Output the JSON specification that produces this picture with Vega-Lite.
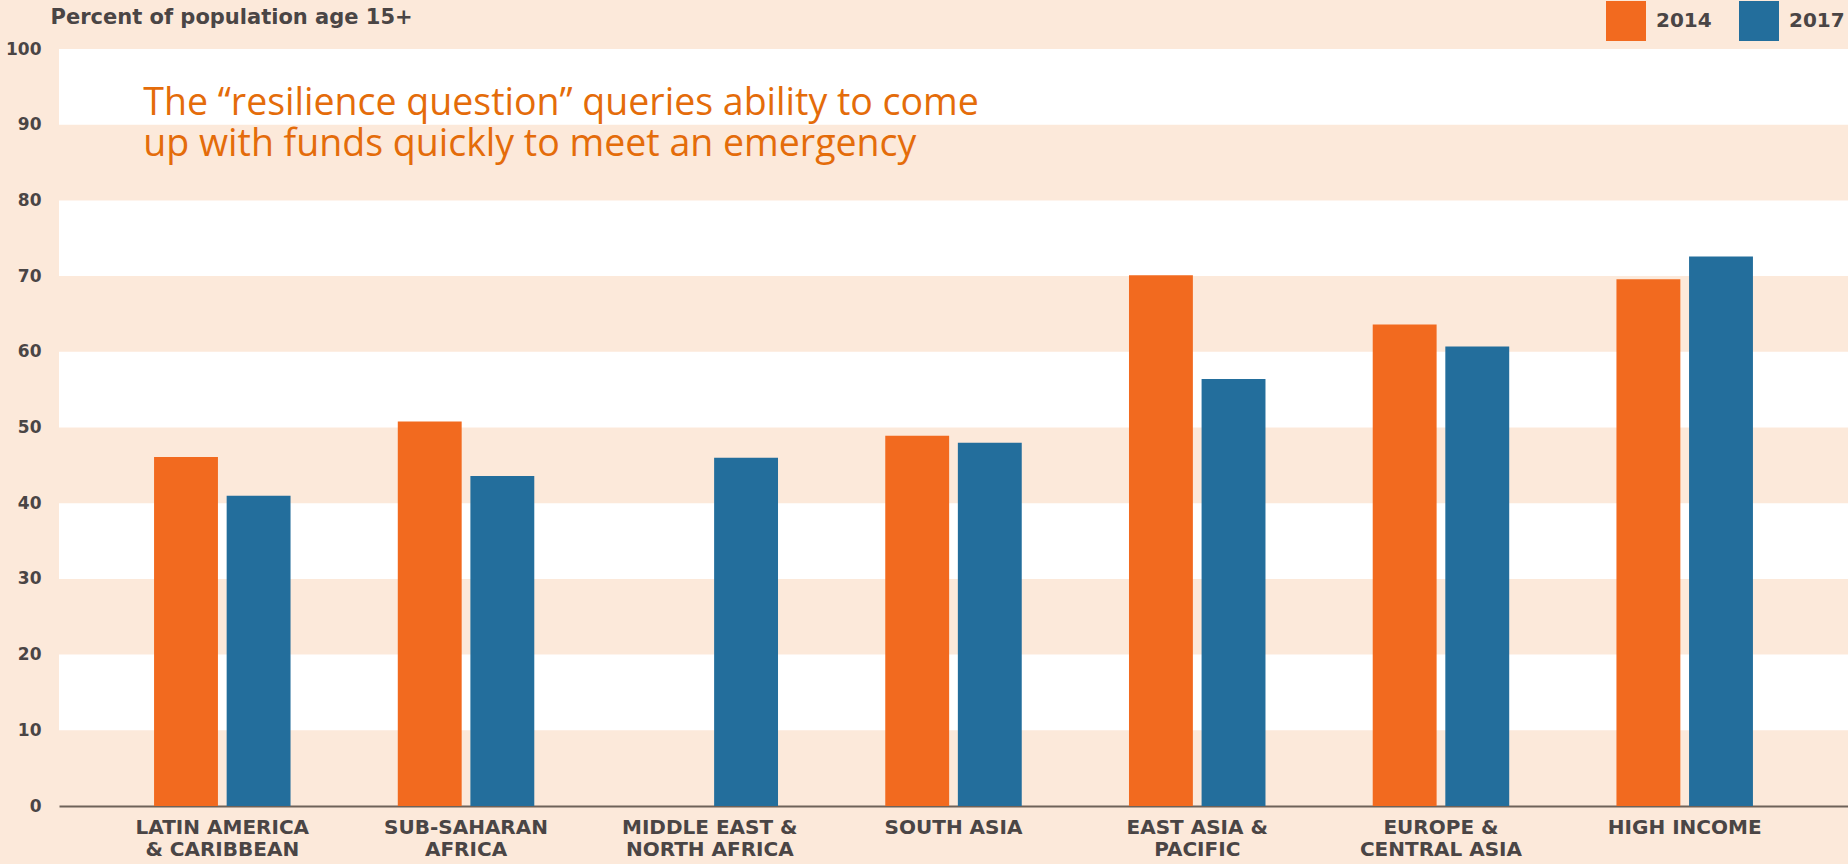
{
  "$schema": "https://vega.github.io/schema/vega-lite/v6.json",
  "width": 1789,
  "height": 757,
  "autosize": {"type": "none"},
  "padding": {"left": 59, "top": 49, "right": 0, "bottom": 58},
  "background": "#FCE9DA",
  "config": {"view": {"stroke": null, "fill": "#FCE9DA"}},
  "datasets": {
    "bars": [
      {"region": "LATIN AMERICA|& CARIBBEAN", "year": "2014", "value": 46.1},
      {"region": "LATIN AMERICA|& CARIBBEAN", "year": "2017", "value": 41.0},
      {"region": "SUB-SAHARAN|AFRICA", "year": "2014", "value": 50.8},
      {"region": "SUB-SAHARAN|AFRICA", "year": "2017", "value": 43.6},
      {"region": "MIDDLE EAST &|NORTH AFRICA", "year": "2017", "value": 46.0},
      {"region": "SOUTH ASIA", "year": "2014", "value": 48.9},
      {"region": "SOUTH ASIA", "year": "2017", "value": 48.0},
      {"region": "EAST ASIA &|PACIFIC", "year": "2014", "value": 70.1},
      {"region": "EAST ASIA &|PACIFIC", "year": "2017", "value": 56.4},
      {"region": "EUROPE &|CENTRAL ASIA", "year": "2014", "value": 63.6},
      {"region": "EUROPE &|CENTRAL ASIA", "year": "2017", "value": 60.7},
      {"region": "HIGH INCOME", "year": "2014", "value": 69.6},
      {"region": "HIGH INCOME", "year": "2017", "value": 72.6}
    ],
    "bands": [
      {"lo": 10, "hi": 20},
      {"lo": 30, "hi": 40},
      {"lo": 50, "hi": 60},
      {"lo": 70, "hi": 80},
      {"lo": 90, "hi": 100}
    ],
    "note": [
      {"region": "LATIN AMERICA|& CARIBBEAN", "pos": 91.3, "text": "The “resilience question” queries ability to come|up with funds quickly to meet an emergency"}
    ]
  },
  "layer": [
    {
      "data": {"name": "bands"},
      "mark": {"type": "rect", "color": "#FFFFFF"},
      "encoding": {
        "y": {"field": "lo", "type": "quantitative", "scale": {"domain": [0, 100], "nice": false},
          "axis": {"title": "Percent of population age 15+", "values": [0,10,20,30,40,50,60,70,80,90,100], "grid": false, "ticks": false, "domain": false,
            "labelFont": "DejaVu Sans", "labelFontWeight": "bold", "labelFontSize": 17, "labelColor": "#4A4545", "labelPadding": 18,
            "titleFont": "DejaVu Sans", "titleFontWeight": "bold", "titleFontSize": 21, "titleColor": "#4A4545", "titleAngle": 0, "titleAlign": "left", "titleBaseline": "middle", "titleX": -9, "titleY": -32}},
        "y2": {"field": "hi"}
      }
    },
    {
      "data": {"name": "bars"},
      "mark": {"type": "bar"},
      "encoding": {
        "x": {"field": "region", "type": "nominal", "sort": ["LATIN AMERICA|& CARIBBEAN", "SUB-SAHARAN|AFRICA", "MIDDLE EAST &|NORTH AFRICA", "SOUTH ASIA", "EAST ASIA &|PACIFIC", "EUROPE &|CENTRAL ASIA", "HIGH INCOME"],
          "scale": {"paddingInner": 0.44, "paddingOuter": 0.39},
          "axis": {"title": null, "labelAngle": 0, "labelExpr": "split(datum.value, '|')", "ticks": false, "domain": true, "domainColor": "#6E6259", "domainWidth": 2,
            "labelFont": "DejaVu Sans", "labelFontWeight": "bold", "labelFontSize": 20, "labelColor": "#4A4545", "labelPadding": 11, "labelLineHeight": 22, "labelBaseline": "top"}},
        "xOffset": {"field": "year", "type": "nominal", "scale": {"domain": ["2014", "2017"], "paddingInner": 0.12, "paddingOuter": 0}},
        "y": {"field": "value", "type": "quantitative",
          "axis": {"title": "Percent of population age 15+", "values": [0,10,20,30,40,50,60,70,80,90,100], "grid": false, "ticks": false, "domain": false,
            "labelFont": "DejaVu Sans", "labelFontWeight": "bold", "labelFontSize": 17, "labelColor": "#4A4545", "labelPadding": 18,
            "titleFont": "DejaVu Sans", "titleFontWeight": "bold", "titleFontSize": 21, "titleColor": "#4A4545", "titleAngle": 0, "titleAlign": "left", "titleBaseline": "middle", "titleX": -9, "titleY": -32}},
        "color": {"field": "year", "type": "nominal", "scale": {"domain": ["2014", "2017"], "range": ["#F26A1F", "#236E9C"]},
          "legend": {"title": null, "orient": "none", "legendX": 1547, "legendY": -48, "direction": "horizontal", "symbolType": "square", "symbolSize": 1600, "symbolStrokeWidth": 0, "symbolOpacity": 1,
            "labelFont": "DejaVu Sans", "labelFontWeight": "bold", "labelFontSize": 20, "labelColor": "#4A4545", "labelOffset": 10, "columnPadding": 27}}
      }
    },
    {
      "data": {"name": "note"},
      "mark": {"type": "text", "align": "left", "baseline": "alphabetic", "dx": -79, "font": "Open Sans", "fontSize": 37.5, "lineHeight": 41, "color": "#E46C0A", "lineBreak": "|"},
      "encoding": {
        "x": {"field": "region", "type": "nominal", "sort": ["LATIN AMERICA|& CARIBBEAN", "SUB-SAHARAN|AFRICA", "MIDDLE EAST &|NORTH AFRICA", "SOUTH ASIA", "EAST ASIA &|PACIFIC", "EUROPE &|CENTRAL ASIA", "HIGH INCOME"]},
        "y": {"field": "pos", "type": "quantitative"},
        "text": {"field": "text"}
      }
    }
  ]
}
